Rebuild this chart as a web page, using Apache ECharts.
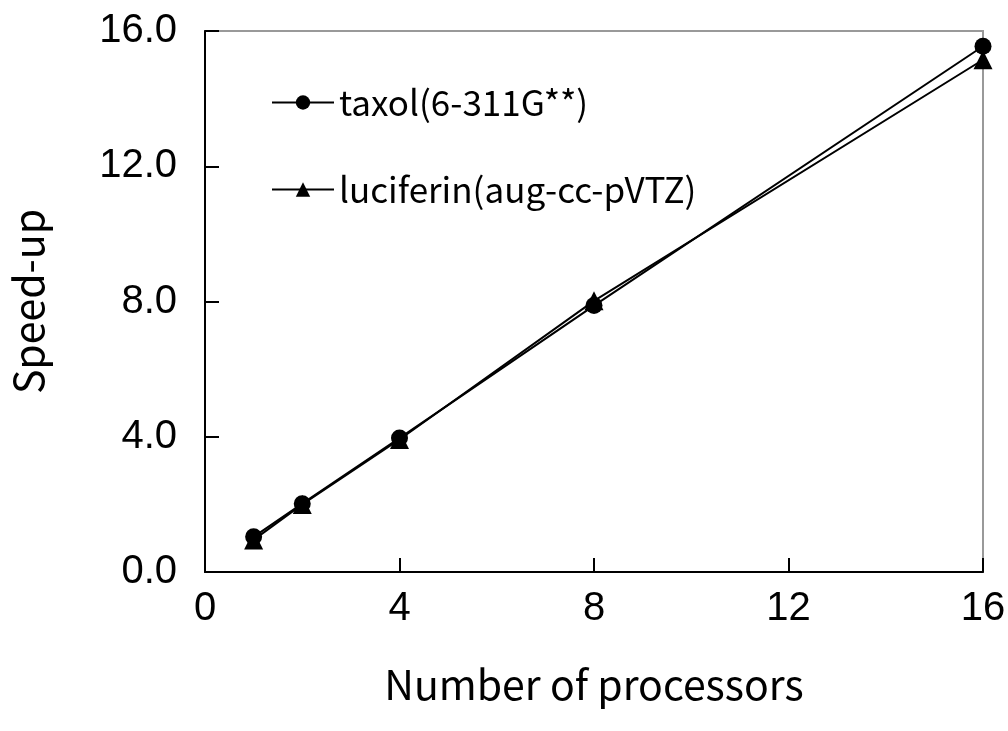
<!DOCTYPE html>
<html>
<head>
<meta charset="utf-8">
<script src="https://cdn.jsdelivr.net/npm/echarts@6/dist/echarts.min.js"></script>
<style>html,body{margin:0;padding:0;background:#fff}#main{width:1008px;height:731px}</style>
</head>
<body>
<div id="main"></div>
<script>
var processors = [1, 2, 4, 8, 16];
var taxol = [1.04, 2.02, 3.96, 7.88, 15.55];
var luciferin = [0.95, 2.0, 3.92, 8.02, 15.15];
var xTicks = [0, 4, 8, 12, 16];
var yTicks = [0, 4, 8, 12, 16];

function pairs(xs, ys) {
    return xs.map(function (x, i) { return [x, ys[i]]; });
}

var chart = echarts.init(document.getElementById('main'));
var option = {
    animation: false,
    grid: {
        left: 205, right: 25, top: 31, bottom: 159,
        outerBoundsMode: 'none', containLabel: false,
        show: true, borderColor: '#999', borderWidth: 2
    },
    legend: {
        orient: 'vertical',
        left: 266,
        top: 80,
        itemWidth: 62,
        itemHeight: 18,
        itemGap: 52,
        textStyle: { fontFamily: 'Noto Sans CJK JP', fontSize: 35, color: '#000' },
        data: ['taxol(6-311G**)', 'luciferin(aug-cc-pVTZ)']
    },
    xAxis: {
        type: 'value',
        min: xTicks[0],
        max: xTicks[xTicks.length - 1],
        interval: 4,
        name: 'Number of processors',
        nameLocation: 'middle',
        nameGap: 92,
        nameTextStyle: { fontFamily: 'Noto Sans CJK JP', fontSize: 41, color: '#000' },
        axisLine: { lineStyle: { color: '#000', width: 2 } },
        axisTick: { inside: true, length: 14, lineStyle: { color: '#000', width: 2 } },
        axisLabel: { fontFamily: 'Liberation Sans', fontSize: 40, color: '#000', margin: 17 },
        splitLine: { show: false }
    },
    yAxis: {
        type: 'value',
        min: yTicks[0],
        max: yTicks[yTicks.length - 1],
        interval: 4,
        name: 'Speed-up',
        nameLocation: 'middle',
        nameGap: 156,
        nameTextStyle: { fontFamily: 'Noto Sans CJK JP', fontSize: 41, color: '#000' },
        axisLine: { lineStyle: { color: '#000', width: 2 } },
        axisTick: { inside: true, length: 14, lineStyle: { color: '#000', width: 2 } },
        axisLabel: {
            fontFamily: 'Liberation Sans', fontSize: 40, color: '#000', margin: 28,
            formatter: function (v) { return v.toFixed(1); }
        },
        splitLine: { show: false }
    },
    series: [
        {
            name: 'taxol(6-311G**)',
            type: 'line',
            data: pairs(processors, taxol),
            symbol: 'circle',
            symbolSize: 17,
            itemStyle: { color: '#000' },
            lineStyle: { color: '#000', width: 2 }
        },
        {
            name: 'luciferin(aug-cc-pVTZ)',
            type: 'line',
            data: pairs(processors, luciferin),
            symbol: 'triangle',
            symbolSize: 19,
            itemStyle: { color: '#000' },
            lineStyle: { color: '#000', width: 2 }
        }
    ]
};
chart.setOption(option);
</script>
</body>
</html>
